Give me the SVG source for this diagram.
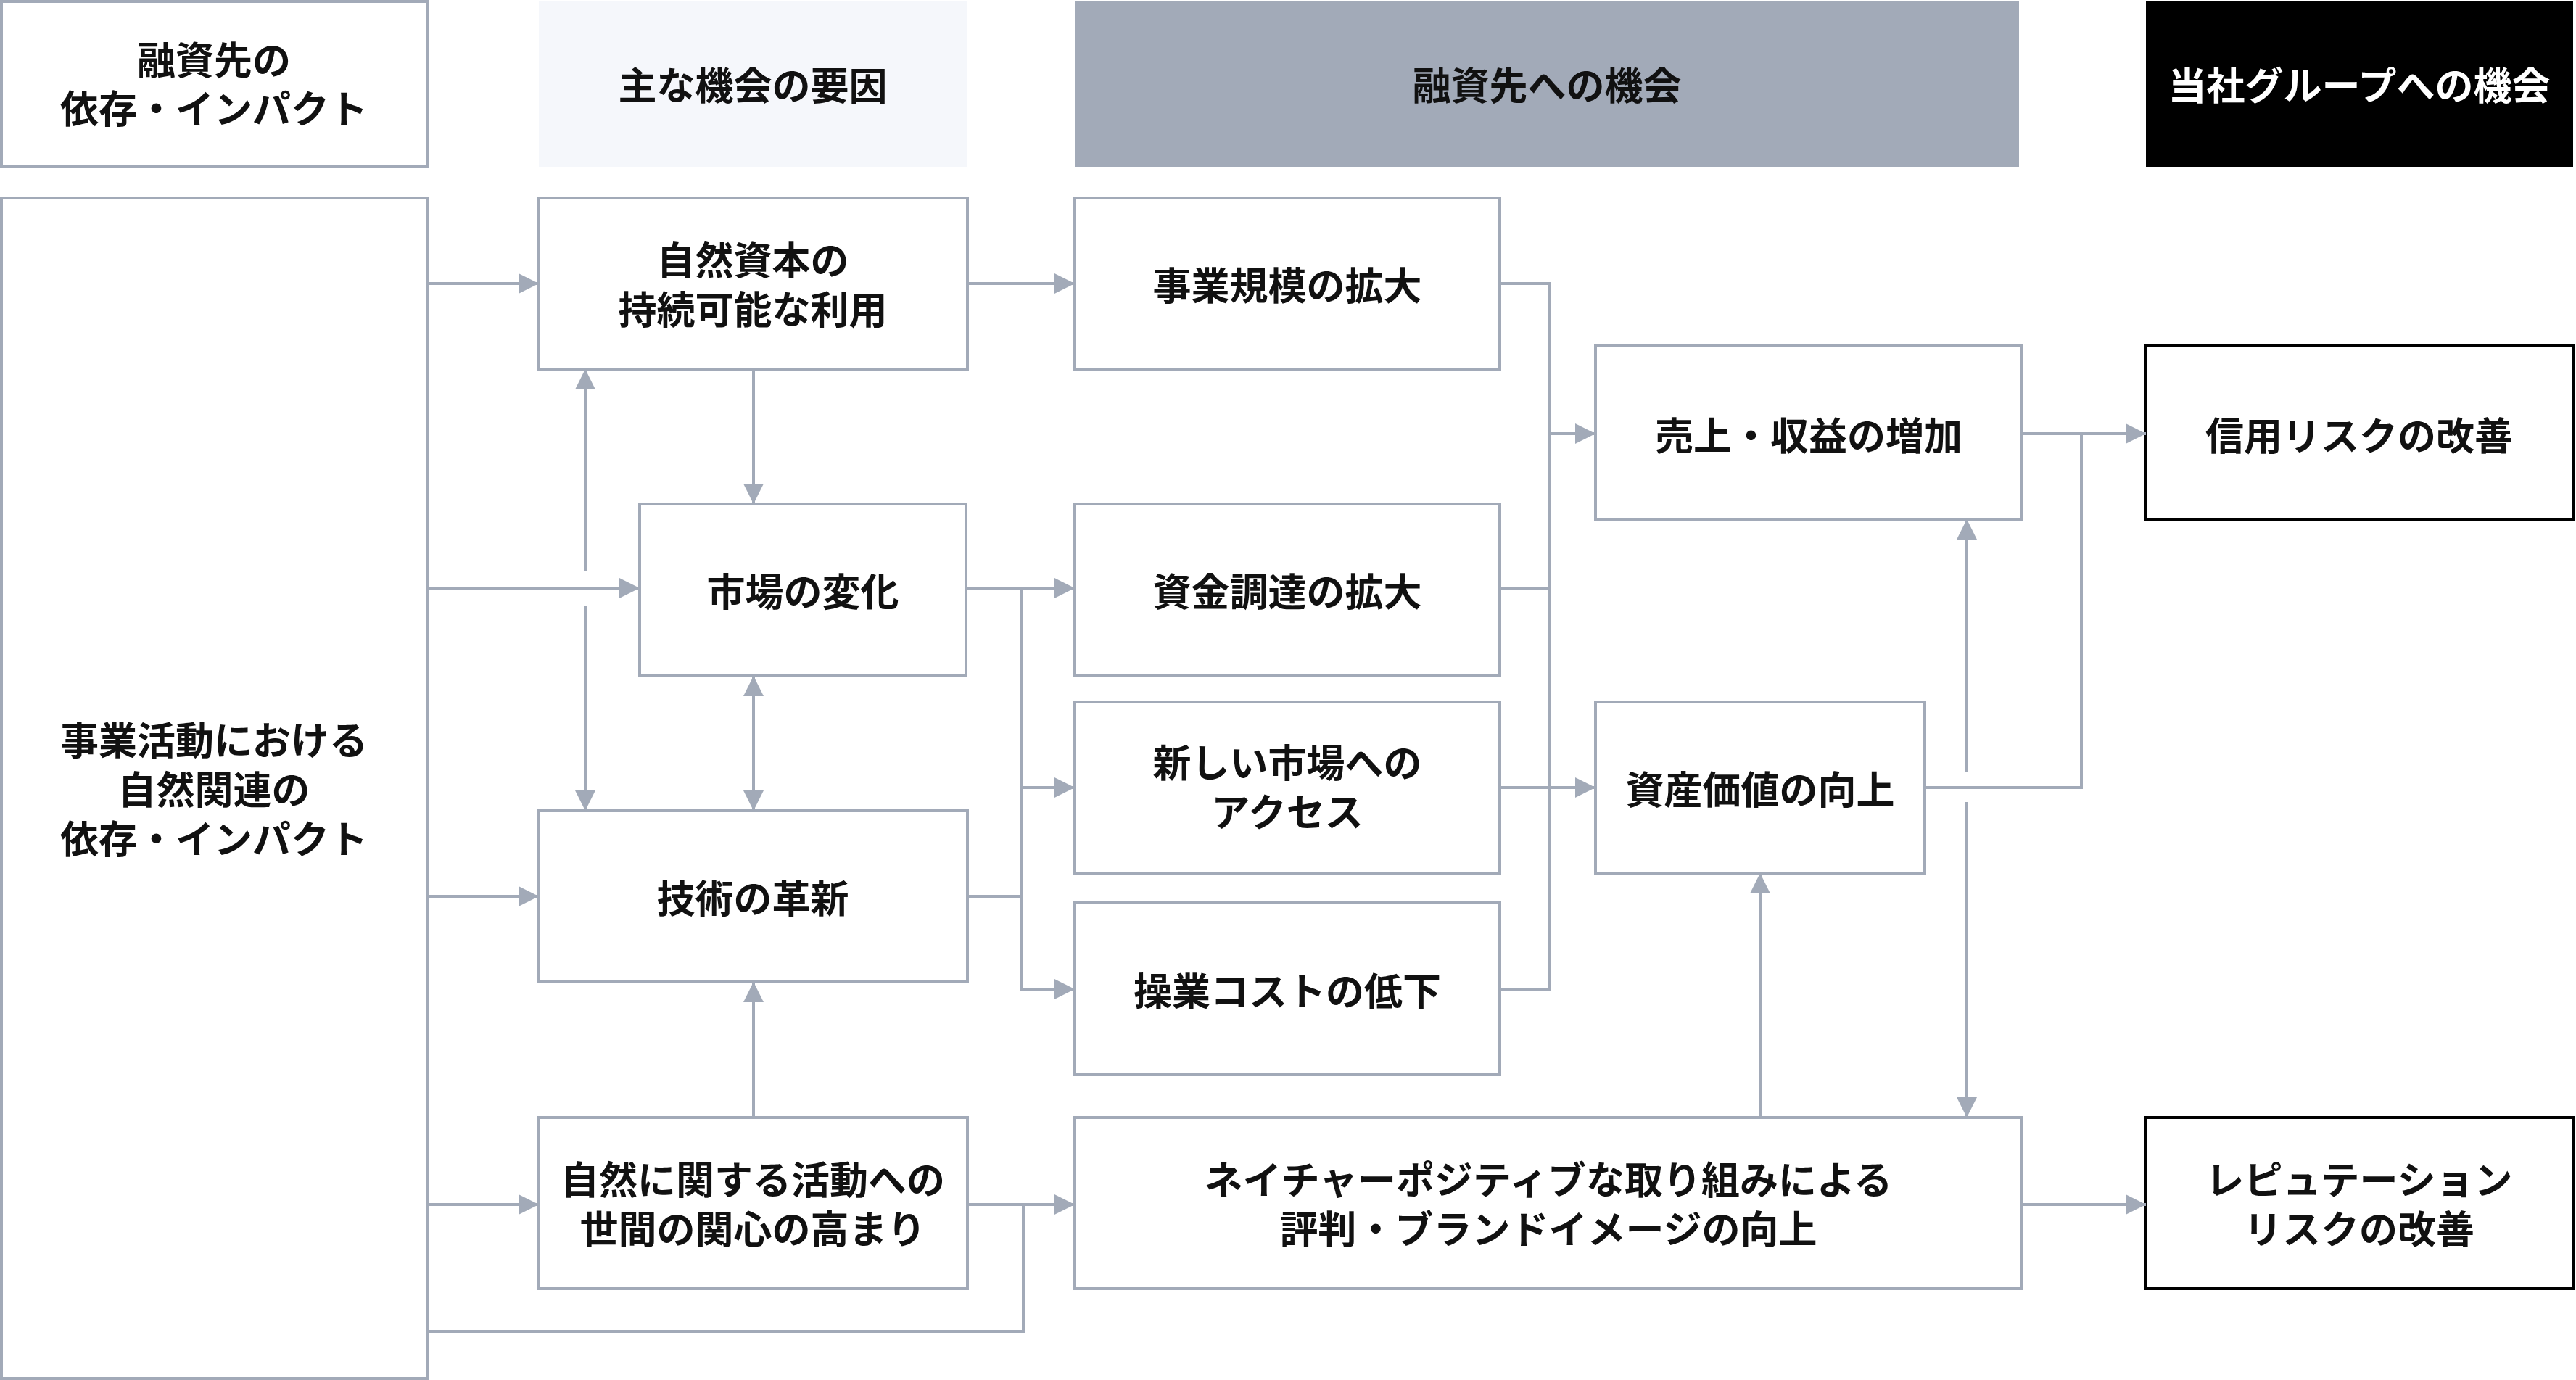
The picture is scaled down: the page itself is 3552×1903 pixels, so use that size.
<svg xmlns="http://www.w3.org/2000/svg" width="3552" height="1903" viewBox="0 0 3552 1903">
<style>
.b{fill:#fff;stroke:#a2aab8;stroke-width:4}
.k{fill:#fff;stroke:#000;stroke-width:4}
text{font-family:"Noto Sans CJK JP","Noto Sans CJK SC",sans-serif;font-weight:bold;font-size:53px;text-anchor:middle;dominant-baseline:central;fill:#111}
.c path{fill:none;stroke:#a2aab8;stroke-width:4}
</style>
<defs>
<marker id="a" viewBox="0 0 10 10" refX="10" refY="5" markerWidth="7" markerHeight="7" orient="auto-start-reverse" markerUnits="strokeWidth"><path d="M0,0L10,5L0,10z" fill="#a2aab8"/></marker>
</defs>
<rect width="3552" height="1903" fill="#fff"/>
<g id="h1"><rect class="b" x="2" y="2" width="587" height="228"/><text x="295" y="80">融資先の</text><text x="295" y="147">依存・インパクト</text></g>
<g id="h2"><rect x="743" y="2" width="591" height="228" fill="#f5f7fb"/><text x="1038" y="115">主な機会の要因</text></g>
<g id="h3"><rect x="1482" y="2" width="1302" height="228" fill="#a2aab8"/><text x="2133" y="115">融資先への機会</text></g>
<g id="h4"><rect x="2959" y="2" width="589" height="228" fill="#000"/><text x="3253" y="115" style="fill:#fff">当社グループへの機会</text></g>
<g id="n0"><rect class="b" x="2" y="273" width="587" height="1628"/><text x="295" y="1018">事業活動における</text><text x="295" y="1086">自然関連の</text><text x="295" y="1154">依存・インパクト</text></g>
<g id="n1"><rect class="b" x="743" y="273" width="591" height="236"/><text x="1038" y="356">自然資本の</text><text x="1038" y="424">持続可能な利用</text></g>
<g id="n2"><rect class="b" x="882" y="695" width="450" height="237"/><text x="1107" y="813">市場の変化</text></g>
<g id="n3"><rect class="b" x="743" y="1118" width="591" height="236"/><text x="1038" y="1236">技術の革新</text></g>
<g id="n4"><rect class="b" x="743" y="1541" width="591" height="236"/><text x="1038" y="1624">自然に関する活動への</text><text x="1038" y="1692">世間の関心の高まり</text></g>
<g id="n5"><rect class="b" x="1482" y="273" width="586" height="236"/><text x="1775" y="391">事業規模の拡大</text></g>
<g id="n6"><rect class="b" x="1482" y="695" width="586" height="237"/><text x="1775" y="813">資金調達の拡大</text></g>
<g id="n7"><rect class="b" x="1482" y="968" width="586" height="236"/><text x="1775" y="1049">新しい市場への</text><text x="1775" y="1117">アクセス</text></g>
<g id="n8"><rect class="b" x="1482" y="1245" width="586" height="237"/><text x="1775" y="1364">操業コストの低下</text></g>
<g id="n9"><rect class="b" x="2200" y="477" width="588" height="239"/><text x="2494" y="598">売上・収益の増加</text></g>
<g id="n10"><rect class="b" x="2200" y="968" width="454" height="236"/><text x="2427" y="1086">資産価値の向上</text></g>
<g id="n11"><rect class="b" x="1482" y="1541" width="1306" height="236"/><text x="2135" y="1624">ネイチャーポジティブな取り組みによる</text><text x="2135" y="1692">評判・ブランドイメージの向上</text></g>
<g id="n12"><rect class="k" x="2959" y="477" width="589" height="239"/><text x="3253" y="598">信用リスクの改善</text></g>
<g id="n13"><rect class="k" x="2959" y="1541" width="589" height="236"/><text x="3253" y="1624">レピュテーション</text><text x="3253" y="1692">リスクの改善</text></g>
<g class="c" id="connectors">
<path d="M589 391H743" marker-end="url(#a)"/>
<path d="M589 811H882" marker-end="url(#a)"/>
<path d="M589 1236H743" marker-end="url(#a)"/>
<path d="M589 1661H743" marker-end="url(#a)"/>
<path d="M589 1836H1411V1661"/>
<path d="M1334 1661H1482" marker-end="url(#a)"/>
<path d="M1334 391H1482" marker-end="url(#a)"/>
<path d="M1039 509V695" marker-end="url(#a)"/>
<path d="M807 788V509" marker-end="url(#a)"/>
<path d="M807 836V1118" marker-end="url(#a)"/>
<path d="M1039 932V1118" marker-start="url(#a)" marker-end="url(#a)"/>
<path d="M1039 1541V1354" marker-end="url(#a)"/>
<path d="M1332 811H1482" marker-end="url(#a)"/>
<path d="M1409 811V1364H1482" marker-end="url(#a)"/>
<path d="M1409 1086H1482" marker-end="url(#a)"/>
<path d="M1334 1236H1409"/>
<path d="M2068 391H2136V1364H2068"/>
<path d="M2068 811H2136"/>
<path d="M2136 598H2200" marker-end="url(#a)"/>
<path d="M2068 1086H2200" marker-end="url(#a)"/>
<path d="M2788 598H2959" marker-end="url(#a)"/>
<path d="M2654 1086H2870V598"/>
<path d="M2712 1065V716" marker-end="url(#a)"/>
<path d="M2712 1106V1541" marker-end="url(#a)"/>
<path d="M2427 1541V1204" marker-end="url(#a)"/>
<path d="M2788 1661H2959" marker-end="url(#a)"/>
</g>
</svg>
